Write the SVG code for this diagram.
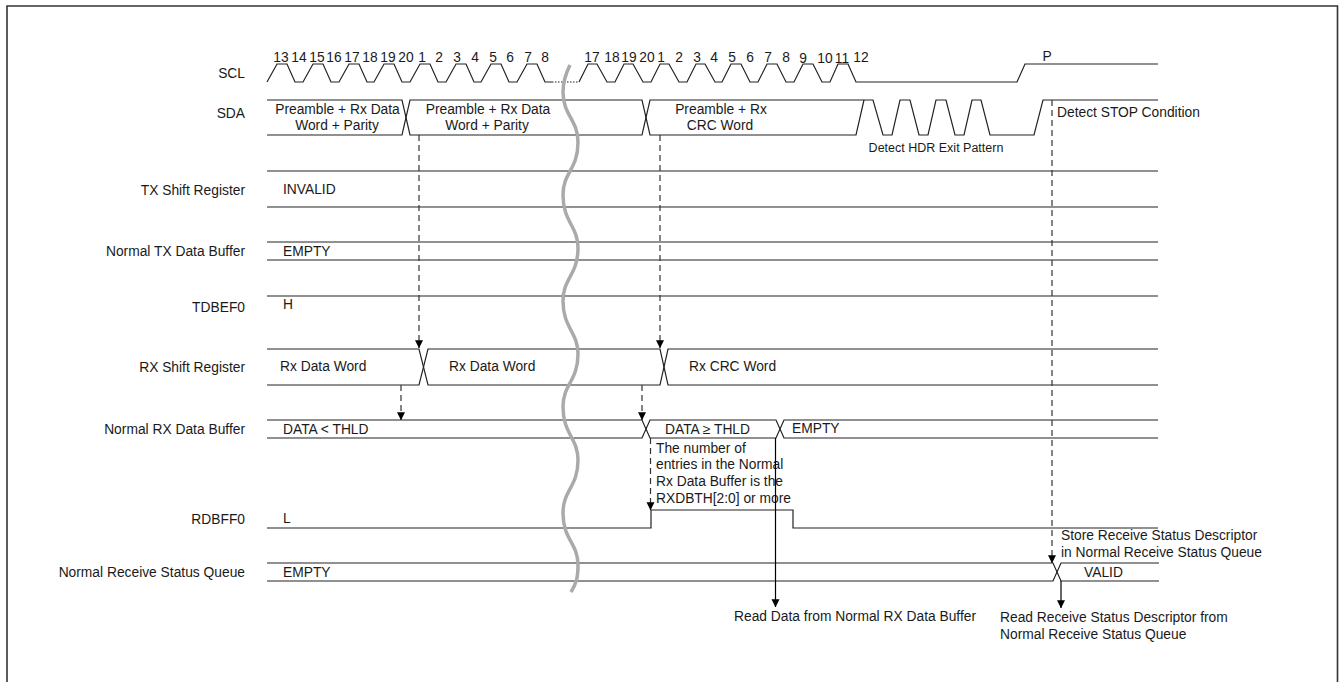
<svg xmlns="http://www.w3.org/2000/svg" width="1341" height="682" viewBox="0 0 1341 682">
<style>
text{font-family:"Liberation Sans",Arial,sans-serif;font-size:13.8px;fill:#1a1a1a}
.s{font-size:12.5px}
.r{text-anchor:end}
.m{text-anchor:middle}
.w{fill:none;stroke:#222;stroke-width:1.2}
.d{fill:none;stroke:#333;stroke-width:1.2;stroke-dasharray:6 4}
.a{fill:none;stroke:#000;stroke-width:1.2}
</style>
<defs>
<marker id="ah" markerUnits="userSpaceOnUse" markerWidth="8" markerHeight="10" refX="7.8" refY="4" orient="auto"><path d="M0 0L8 4L0 8Z" fill="#000"/></marker>
</defs>
<rect width="1341" height="682" fill="#fff"/>
<path d="M7 682V6H1337.500V682" fill="none" stroke="#333" stroke-width="1.6"/>
<g id="scl">
<text class="r" x="245" y="78">SCL</text>
<path class="w" d="M267 82L277 64H287L295 82H303L313 64H323L331 82H339L349 64H359L367 82H374L384 64H394L402 82H410L420 64H430L438 82H446L456 64H466L474 82H481L491 64H501L509 82H517L527 64H537L545 82H552"/>
<path class="w" stroke-dasharray="1.5 1.5" d="M552 82H579"/>
<path class="w" d="M579 82L588 64H597L607 82H615L624 64H633L643 82H651L660 64H669L679 82H687L696 64H705L715 82H722L731 64H741L750 82H758L767 64H777L786 82H794L803 64H813L822 82H830L838 64H848L856 82H1017L1025 64H1158"/>
<g text-anchor="middle">
<text x="281" y="62">13</text><text x="299" y="62">14</text><text x="317" y="62">15</text><text x="334" y="62">16</text><text x="352" y="62">17</text><text x="370" y="62">18</text><text x="388" y="62">19</text><text x="406" y="62">20</text><text x="422" y="62">1</text><text x="439" y="62">2</text><text x="457" y="62">3</text><text x="475" y="62">4</text><text x="493" y="62">5</text><text x="510" y="62">6</text><text x="528" y="62">7</text><text x="545" y="62">8</text>
<text x="592" y="62">17</text><text x="612" y="62">18</text><text x="629" y="62">19</text><text x="647" y="62">20</text><text x="661" y="62">1</text><text x="679" y="62">2</text><text x="697" y="62">3</text><text x="714" y="62">4</text><text x="732" y="62">5</text><text x="750" y="62">6</text><text x="768" y="62">7</text><text x="786" y="62">8</text><text x="803" y="63">9</text><text x="825" y="63">10</text><text x="842" y="63">11</text><text x="861" y="62">12</text>
<text x="1047" y="61">P</text>
</g>
</g>
<g id="sda">
<text class="r" x="245" y="118">SDA</text>
<path class="w" d="M267 100H402L410 135H642L650 100H864H873L883 135H892L900 100H910L919 135H928L936 100H946L955 135H964L972 100H981L990 135H1034L1043 100H1158"/>
<path class="w" d="M267 135H402L410 100H642L650 135H856L864 100"/>
<text class="m" x="337.500" y="114">Preamble + Rx Data</text>
<text class="m" x="337" y="130">Word + Parity</text>
<text class="m" x="488" y="114">Preamble + Rx Data</text>
<text class="m" x="487" y="130">Word + Parity</text>
<text class="m" x="721" y="114">Preamble + Rx</text>
<text class="m" x="720" y="130">CRC Word</text>
<text class="s m" x="936" y="152">Detect HDR Exit Pattern</text>
<text x="1057" y="117">Detect STOP Condition</text>
</g>
<g id="tx-shift">
<text class="r" x="245" y="195">TX Shift Register</text>
<path class="w" d="M267 171H1158M267 207H1158"/>
<text x="283" y="194">INVALID</text>
</g>
<g id="tx-buffer">
<text class="r" x="245" y="256">Normal TX Data Buffer</text>
<path class="w" d="M267 242H1158M267 260H1158"/>
<text x="283" y="256">EMPTY</text>
</g>
<g id="tdbef0">
<text class="r" x="245" y="312">TDBEF0</text>
<path class="w" d="M267 296H1158"/>
<text x="283" y="309">H</text>
</g>
<g id="rx-shift">
<text class="r" x="245" y="372">RX Shift Register</text>
<path class="w" d="M267 349H419L428 385H660L668 349H1158"/>
<path class="w" d="M267 385H419L428 349H660L668 385H1158"/>
<text x="280" y="371">Rx Data Word</text>
<text x="449" y="371">Rx Data Word</text>
<text x="689" y="371">Rx CRC Word</text>
</g>
<g id="rx-buffer">
<text class="r" x="245" y="434">Normal RX Data Buffer</text>
<path class="w" d="M267 420H642L650 438H776L784 420H1158"/>
<path class="w" d="M267 438H642L650 420H776L784 438H1158"/>
<text x="283" y="434">DATA &lt; THLD</text>
<text x="665" y="434">DATA ≥ THLD</text>
<text x="792" y="433">EMPTY</text>
<text x="656" y="453">The number of</text>
<text x="656" y="469">entries in the Normal</text>
<text x="656" y="486">Rx Data Buffer is the</text>
<text x="656" y="503">RXDBTH[2:0] or more</text>
</g>
<g id="rdbff0">
<text class="r" x="245" y="524">RDBFF0</text>
<path class="w" d="M267 528H651V510H793V528H1158"/>
<text x="283" y="523">L</text>
</g>
<g id="status-queue">
<text class="r" x="245" y="577">Normal Receive Status Queue</text>
<path class="w" d="M267 563H1053L1061 581H1159"/>
<path class="w" d="M267 581H1053L1061 563H1159"/>
<text x="283" y="577">EMPTY</text>
<text x="1084" y="577">VALID</text>
<text x="1061" y="540">Store Receive Status Descriptor</text>
<text x="1061" y="557">in Normal Receive Status Queue</text>
<text x="1000" y="622">Read Receive Status Descriptor from</text>
<text x="1000" y="639">Normal Receive Status Queue</text>
<text x="734" y="621">Read Data from Normal RX Data Buffer</text>
</g>
<g id="break">
<path fill="none" stroke="#aaa" stroke-width="3.5" d="M570 65C565 75 563 82 563 92C563 115 578 120 578 142C578 170 563 172 563 195C563 222 578 226 578 248C578 275 563 278 563 301C563 328 578 332 578 354C578 381 563 384 563 407C563 434 578 438 578 460C578 487 563 490 563 513C563 540 578 543 578 565C578 578 576 584 571 592"/>
</g>
<g id="connectors">
<path class="d" marker-end="url(#ah)" d="M419 135V348"/>
<path class="d" marker-end="url(#ah)" d="M660 135V348"/>
<path class="d" marker-end="url(#ah)" d="M401 385V420"/>
<path class="d" marker-end="url(#ah)" d="M642 385V420"/>
<path class="d" marker-end="url(#ah)" d="M650.500 438V510"/>
<path class="d" marker-end="url(#ah)" d="M1052 100V563"/>
<path class="a" marker-end="url(#ah)" d="M775.500 438V607"/>
<path class="a" marker-end="url(#ah)" d="M1061 581V608"/>
</g>
</svg>
